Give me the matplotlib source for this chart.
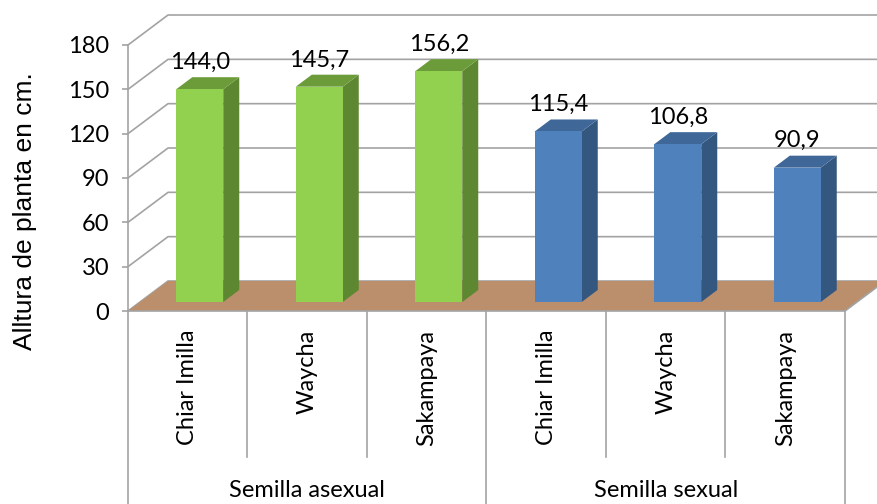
import matplotlib.pyplot as plt
from matplotlib.patches import Polygon

plt.rcParams['font.family'] = ['Lato', 'DejaVu Sans']

groups = ["Semilla asexual", "Semilla sexual"]
varieties = ["Chiar Imilla", "Waycha", "Sakampaya"]
altura = [144.0, 145.7, 156.2, 115.4, 106.8, 90.9]
y_ticks = [0, 30, 60, 90, 120, 150, 180]

front_colors = ["#92D050"] * 3 + ["#4F81BD"] * 3
side_colors = ["#5E8731"] * 3 + ["#34577F"] * 3
top_colors = ["#6C9C3A"] * 3 + ["#3F6898"] * 3

grid_col = "#a3a3a3"
floor_col = "#BB8F6C"
fs = 17

fig = plt.figure(figsize=(8.78, 5.04), dpi=100)
ax = fig.add_axes([128 / 878, 193 / 504, 717 / 878, 266 / 504])
ax.set_xlim(-0.5, 5.5)
ax.set_ylim(0, 180)

# depth of the 3d box in data units (back wall) and bar placement inside it
wall_dx, wall_dy = 0.335, 20.3
bar_dx0, bar_dy0 = 0.3 * wall_dx, 0.3 * wall_dy
bar_ddx, bar_ddy = 0.4 * wall_dx, 0.4 * wall_dy
bar_w = 0.393

# side wall and back wall gridlines
for v in y_ticks:
    ax.plot([-0.5, -0.5 + wall_dx, 7], [v, v + wall_dy, v + wall_dy],
            color=grid_col, lw=1.2, clip_on=False, zorder=1)

# floor
floor = Polygon([(-0.5, 0), (5.5, 0), (5.5 + wall_dx, wall_dy), (-0.5 + wall_dx, wall_dy)],
                closed=True, facecolor=floor_col, edgecolor="none", clip_on=False, zorder=2)
ax.add_patch(floor)
ax.plot([-0.5, 5.5, 5.5 + wall_dx], [0, 0, wall_dy], color=grid_col, lw=1.2,
        clip_on=False, zorder=2.5)

xs = list(range(len(altura)))
ax.bar([x + bar_dx0 for x in xs], altura, width=bar_w, bottom=bar_dy0,
       color=front_colors, zorder=4, clip_on=False)

for x, v, sc, tc in zip(xs, altura, side_colors, top_colors):
    xl = x + bar_dx0 - bar_w / 2
    xr = x + bar_dx0 + bar_w / 2
    yb = bar_dy0
    yt = v + bar_dy0
    side = Polygon([(xr, yb), (xr + bar_ddx, yb + bar_ddy), (xr + bar_ddx, yt + bar_ddy), (xr, yt)],
                   closed=True, facecolor=sc, edgecolor="none", clip_on=False, zorder=3.5)
    top = Polygon([(xl, yt), (xr, yt), (xr + bar_ddx, yt + bar_ddy), (xl + bar_ddx, yt + bar_ddy)],
                  closed=True, facecolor=tc, edgecolor="none", clip_on=False, zorder=3.5)
    ax.add_patch(side)
    ax.add_patch(top)
    ax.annotate(f"{v:.1f}".replace(".", ","), (x + bar_dx0, yt + bar_ddy),
                xytext=(0, 6), textcoords="offset points", ha="center", va="baseline",
                fontsize=fs, zorder=5, annotation_clip=False)

# y axis
for s in ["top", "right", "bottom"]:
    ax.spines[s].set_visible(False)
ax.spines["left"].set_color(grid_col)
ax.spines["left"].set_linewidth(1.2)
ax.set_yticks(y_ticks)
ax.tick_params(axis="y", length=4.5, width=1.2, color=grid_col, pad=9, labelsize=fs)
ax.set_xticks([])
ax.patch.set_visible(False)
ax.text(-0.1437, 0.376, "Alltura de planta en cm.", transform=ax.transAxes,
        rotation=90, ha="center", va="center", fontsize=19,
        family=["Liberation Sans", "DejaVu Sans"])

# two level category axis
xt = ax.get_xaxis_transform()
for i in range(7):
    xb = i - 0.5
    y_end = -0.8 if i in (0, 3, 6) else -0.549
    ax.plot([xb, xb], [0, y_end], color=grid_col, lw=1.2, transform=xt, clip_on=False)
for x in xs:
    ax.text(x, -0.071, varieties[x % 3], transform=xt, rotation=90,
            ha="center", va="top", fontsize=fs)
for g, name in enumerate(groups):
    ax.text(3 * g + 1, -0.673, name, transform=xt, ha="center", va="center", fontsize=fs)

fig.savefig("out.png", dpi=100)
